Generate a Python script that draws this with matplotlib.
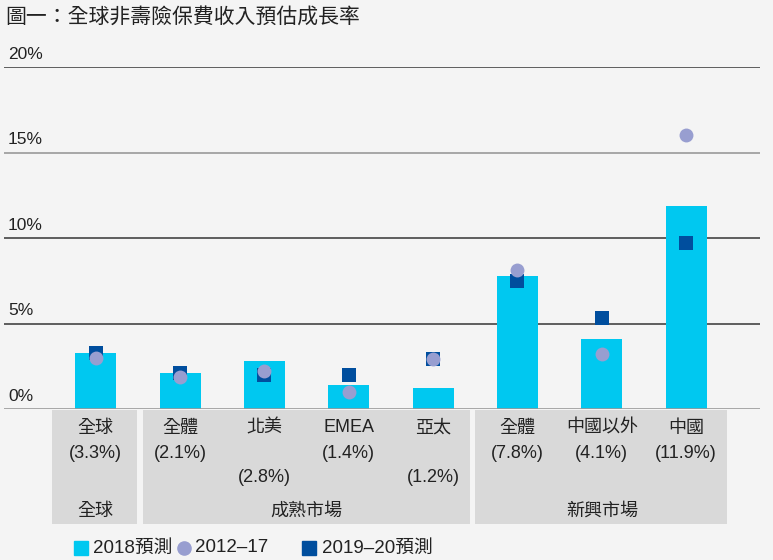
import matplotlib
matplotlib.use("Agg")
import matplotlib.pyplot as plt
from matplotlib.patches import Rectangle
from matplotlib.lines import Line2D

plt.rcParams['font.family'] = ['Liberation Sans', 'Noto Sans CJK TC', 'DejaVu Sans']

# ---- data ----
categories = ['全球', '全體', '北美', 'EMEA', '亞太', '全體', '中國以外', '中國']
forecast_2018 = [3.3, 2.1, 2.8, 1.4, 1.2, 7.8, 4.1, 11.9]
hist_2012_17 = [3.0, 1.9, 2.2, 1.0, 2.9, 8.1, 3.2, 16.0]
forecast_2019_20 = [3.3, 2.1, 2.0, 2.0, 2.9, 7.5, 5.3, 9.7]
groups = ['全球', '成熟市場', '新興市場']
group_members = [[0], [1, 2, 3, 4], [5, 6, 7]]
yticks = [0, 5, 10, 15, 20]
title = '圖一：全球非壽險保費收入預估成長率'
legend_labels = ['2018預測', '2012–17', '2019–20預測']

# ---- styling ----
W, H = 773, 560
BG = '#f4f4f4'
PANEL = '#d9d9d9'
C_BAR = '#00c8f0'
C_CIRC = '#989ed0'
C_SQ = '#004e9e'
TXT = '#222222'
FS = 13

def fx(px):
    return px / W

def fy(py):
    return 1 - py / H

fig = plt.figure(figsize=(W / 100, H / 100), dpi=100, facecolor=BG)

ax_l, ax_r, ax_t, ax_b = 4, 760, 67, 409
ax = fig.add_axes([fx(ax_l), fy(ax_b), fx(ax_r) - fx(ax_l), fy(ax_t) - fy(ax_b)])
ax.set_facecolor(BG)
x0, step = 95.8, 84.33
ax.set_xlim((ax_l - x0) / step, (ax_r - x0) / step)
ax.set_ylim(0, 20)
for s in ax.spines.values():
    s.set_visible(False)
ax.set_xticks([])
ax.set_yticks([])

xs = list(range(len(categories)))
ax.bar(xs, forecast_2018, width=41 / step, color=C_BAR, zorder=2)
ax.scatter(xs, forecast_2019_20, marker='s', s=100, color=C_SQ, zorder=3, linewidths=0)
ax.scatter(xs, hist_2012_17, marker='o', s=100, color=C_CIRC, zorder=4, linewidths=0)

for t in yticks:
    col = '#999999' if t in (0, 15) else '#444444'
    ax.axhline(t, color=col, lw=1.2, zorder=1 if t else 5)
    ax.text(4 / (ax_r - ax_l), t + 0.3, f'{t}%',
            transform=ax.get_yaxis_transform(), ha='left', va='bottom',
            fontsize=12.5, color=TXT)

# ---- category panels ----
axp = fig.add_axes([fx(ax_l), fy(524), fx(ax_r) - fx(ax_l), fy(410) - fy(524)])
axp.set_xlim(ax.get_xlim())
axp.set_ylim(524, 410)
axp.axis('off')
spans = [(-0.52, 0.49), (0.56, 4.44), (4.50, 7.49)]
for (a, b), g, mem in zip(spans, groups, group_members):
    axp.add_patch(Rectangle((a, 410), b - a, 114, color=PANEL, lw=0, zorder=0))
    axp.text((mem[0] + mem[-1]) / 2, 511, g, ha='center', va='center', fontsize=FS, color=TXT)

stagger = {2, 4}
for i, (c, v) in enumerate(zip(categories, forecast_2018)):
    axp.text(i, 428, c, ha='center', va='center', fontsize=FS, color=TXT)
    axp.text(i, 477 if i in stagger else 453, f'({v}%)', ha='center', va='center',
             fontsize=FS, color=TXT)

# ---- title ----
fig.text(fx(5), fy(17), title, ha='left', va='center', fontsize=15, color='#222222')

# ---- legend ----
ly = fy(548)
fig.add_artist(Line2D([fx(81)], [ly], marker='s', markersize=9.5, color=C_BAR, lw=0))
fig.text(fx(93), ly, legend_labels[0], ha='left', va='center', fontsize=13.5, color=TXT)
fig.add_artist(Line2D([fx(184)], [ly], marker='o', markersize=9.5, color=C_CIRC, lw=0))
fig.text(fx(195), ly, legend_labels[1], ha='left', va='center', fontsize=13.5, color=TXT)
fig.add_artist(Line2D([fx(309)], [ly], marker='s', markersize=9.5, color=C_SQ, lw=0))
fig.text(fx(322), ly, legend_labels[2], ha='left', va='center', fontsize=13.5, color=TXT)

fig.savefig('out.png', dpi=100, facecolor=BG)
